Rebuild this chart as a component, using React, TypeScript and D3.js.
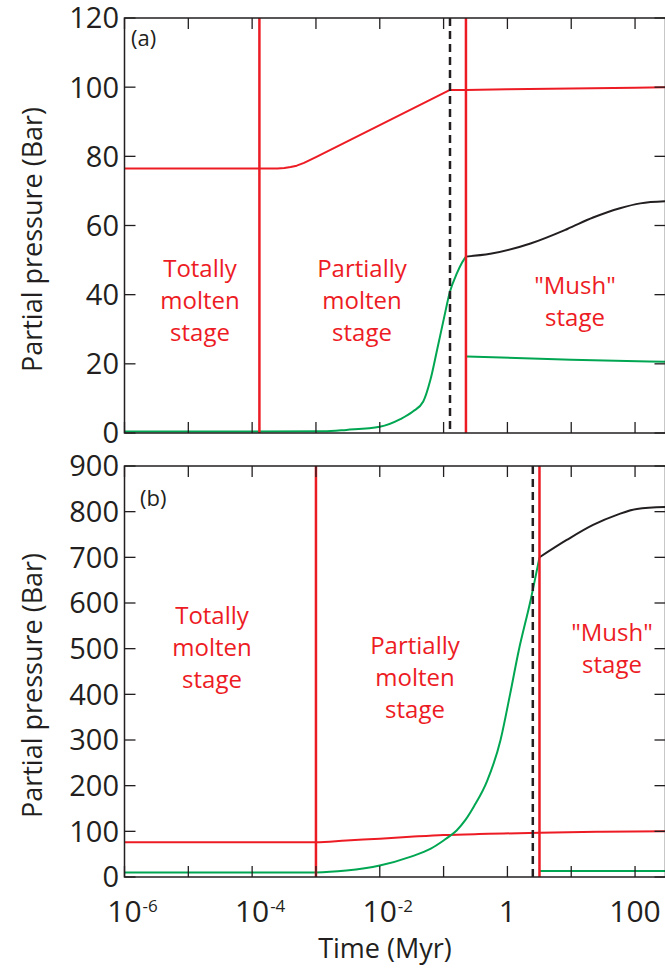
import * as d3 from 'd3';

// ---- data (time in Myr, pressure in bar) ----
const redA_t = [1e-6, 2.5e-4, 3.2e-4, 4e-4, 5e-4, 6.5e-4, 1e-3, 0.01, 0.126, 0.224, 1, 10, 100, 300];
const redA_v = [76.5, 76.5, 76.6, 76.9, 77.3, 78.1, 79.8, 89.0, 99.2, 99.2, 99.4, 99.6, 99.8, 100];
const greenA1_t = [1e-6, 1.3e-3, 3e-3, 0.01, 0.021, 0.033, 0.048, 0.062, 0.079, 0.1, 0.126, 0.162, 0.195, 0.224];
const greenA1_v = [0.4, 0.5, 0.9, 1.8, 4.0, 6.2, 9.1, 15.3, 24, 32.7, 40.9, 46.2, 49.3, 51];
const greenA2_t = [0.224, 10, 300];
const greenA2_v = [22.1, 21.2, 20.6];
const blackA_t = [0.224, 0.54, 2.3, 8.7, 22, 58, 121, 300];
const blackA_v = [51, 51.8, 54.8, 59.0, 62.3, 65.0, 66.4, 67];
const vlinesA = { red1: 1.3e-4, dashed: 0.126, red2: 0.224 };

const redB_t = [1e-6, 1e-3, 3e-3, 0.01, 0.03, 0.1, 0.5, 3.2, 30, 300];
const redB_v = [76, 76, 80, 84, 88, 92, 94.5, 97, 99, 100];
const greenB1_t = [1e-6, 1e-3, 3e-3, 0.01, 0.03, 0.063, 0.1, 0.126, 0.16, 0.22, 0.3, 0.48, 0.78, 1.1, 1.5, 2.3, 3.18];
const greenB1_v = [10, 10, 14, 25, 44, 62, 80, 90, 102, 125, 155, 210, 300, 400, 495, 605, 700];
const greenB2_t = [3.18, 300];
const greenB2_v = [13, 13];
const blackB_t = [3.18, 8.5, 22, 52, 107, 300];
const blackB_v = [700, 738, 771, 793, 806, 810];
const vlinesB = { red1: 1e-3, dashed: 2.5, red2: 3.18 };

const yTicksA = [0, 20, 40, 60, 80, 100, 120];
const yTicksB = [0, 100, 200, 300, 400, 500, 600, 700, 800, 900];
const xTicks = [1e-6, 1e-5, 1e-4, 1e-3, 1e-2, 1e-1, 1, 10, 100];
const xLabels = [
  { t: 1e-6, base: '10', exp: '-6' },
  { t: 1e-4, base: '10', exp: '-4' },
  { t: 1e-2, base: '10', exp: '-2' },
  { t: 1, base: '1', exp: '' },
  { t: 100, base: '100', exp: '' },
];

const RED = '#ed1c24';
const GREEN = '#00a651';
const BLACK = '#231f20';
const FONT = '"Open Sans", "Noto Sans", sans-serif';

const x = d3.scaleLog().domain([1e-6, 300]).range([124.5, 665.5]);

type Series = { t: number[]; v: number[]; color: string; linear?: boolean };
type Panel = {
  id: string;
  y: d3.ScaleLinear<number, number>;
  yTicks: number[];
  lines: Series[];
  vlines: { red1: number; dashed: number; red2: number };
  tag: string;
  tagX: number;
  tagY: number;
  texts: { lines: string[]; cx: number; y0: number }[];
};

const panels: Panel[] = [
  {
    id: 'a',
    y: d3.scaleLinear().domain([0, 120]).range([433, 18]),
    yTicks: yTicksA,
    lines: [
      { t: redA_t, v: redA_v, color: RED, linear: true },
      { t: greenA1_t, v: greenA1_v, color: GREEN },
      { t: greenA2_t, v: greenA2_v, color: GREEN },
      { t: blackA_t, v: blackA_v, color: BLACK },
    ],
    vlines: vlinesA,
    tag: '(a)',
    tagX: 131,
    tagY: 46,
    texts: [
      { lines: ['Totally', 'molten', 'stage'], cx: 200, y0: 277 },
      { lines: ['Partially', 'molten', 'stage'], cx: 362, y0: 277 },
      { lines: ['"Mush"', 'stage'], cx: 575, y0: 294 },
    ],
  },
  {
    id: 'b',
    y: d3.scaleLinear().domain([0, 900]).range([877, 466]),
    yTicks: yTicksB,
    lines: [
      { t: redB_t, v: redB_v, color: RED },
      { t: greenB1_t, v: greenB1_v, color: GREEN },
      { t: greenB2_t, v: greenB2_v, color: GREEN },
      { t: blackB_t, v: blackB_v, color: BLACK },
    ],
    vlines: vlinesB,
    tag: '(b)',
    tagX: 140,
    tagY: 506,
    texts: [
      { lines: ['Totally', 'molten', 'stage'], cx: 212, y0: 624 },
      { lines: ['Partially', 'molten', 'stage'], cx: 415, y0: 654 },
      { lines: ['"Mush"', 'stage'], cx: 612, y0: 641 },
    ],
  },
];

const TICK = 11;

function PanelView({ p }: { p: Panel }) {
  const [y0, y1] = p.y.range();
  const [x0, x1] = x.range();
  const makeLine = (linear?: boolean) =>
    d3
      .line<[number, number]>()
      .x((d) => x(d[0]))
      .y((d) => p.y(d[1]))
      .curve(linear ? d3.curveLinear : d3.curveMonotoneX);
  const clipId = `clip-${p.id}`;
  return (
    <g>
      <defs>
        <clipPath id={clipId}>
          <rect x={x0} y={y1} width={x1 - x0} height={y0 - y1} />
        </clipPath>
      </defs>
      <g clipPath={`url(#${clipId})`}>
        {p.lines.map((l, i) => (
          <path
            key={i}
            d={makeLine(l.linear)(l.t.map((t, j) => [t, l.v[j]] as [number, number])) || ''}
            fill="none"
            stroke={l.color}
            strokeWidth={2}
            strokeLinejoin="round"
          />
        ))}
        <line x1={x(p.vlines.red1)} x2={x(p.vlines.red1)} y1={y1} y2={y0} stroke={RED} strokeWidth={2.5} />
        <line
          x1={x(p.vlines.dashed)}
          x2={x(p.vlines.dashed)}
          y1={y1}
          y2={y0}
          stroke={BLACK}
          strokeWidth={2.5}
          strokeDasharray="8,5"
        />
        <line x1={x(p.vlines.red2)} x2={x(p.vlines.red2)} y1={y1} y2={y0} stroke={RED} strokeWidth={2.5} />
      </g>
      {/* frame */}
      <rect x={x0} y={y1} width={x1 - x0} height={y0 - y1} fill="none" stroke={BLACK} strokeWidth={1.5} />
      {/* x ticks, inward on top and bottom */}
      {xTicks.map((t) => (
        <g key={t}>
          <line x1={x(t)} x2={x(t)} y1={y0} y2={y0 - TICK} stroke={BLACK} strokeWidth={1.3} />
          <line x1={x(t)} x2={x(t)} y1={y1} y2={y1 + TICK} stroke={BLACK} strokeWidth={1.3} />
        </g>
      ))}
      {/* y ticks, inward on left and right */}
      {p.yTicks.map((v) => (
        <g key={v}>
          <line x1={x0} x2={x0 + TICK} y1={p.y(v)} y2={p.y(v)} stroke={BLACK} strokeWidth={1.3} />
          <line x1={x1} x2={x1 - TICK} y1={p.y(v)} y2={p.y(v)} stroke={BLACK} strokeWidth={1.3} />
          <text
            x={119}
            y={p.y(v)}
            dy="0.36em"
            textAnchor="end"
            fontSize={29}
            fill={BLACK}
            fontFamily={FONT}
          >
            {v}
          </text>
        </g>
      ))}
      <text x={p.tagX} y={p.tagY} fontSize={22} fill={BLACK} fontFamily={FONT}>
        {p.tag}
      </text>
      {p.texts.map((tx, i) => (
        <text key={i} textAnchor="middle" fontSize={24} fill={RED} fontFamily={FONT}>
          {tx.lines.map((s, j) => (
            <tspan key={j} x={tx.cx} y={tx.y0 + j * 32}>
              {s}
            </tspan>
          ))}
        </text>
      ))}
      <text
        transform={`translate(42,${(y0 + y1) / 2 + 14}) rotate(-90)`}
        textAnchor="middle"
        fontSize={27}
        fill={BLACK}
        fontFamily={FONT}
      >
        Partial pressure (Bar)
      </text>
    </g>
  );
}

export default function App() {
  return (
    <svg
      width={665}
      height={970}
      style={{ position: 'absolute', left: 0, top: 0, background: '#fff' }}
    >
      <rect width={665} height={970} fill="#fff" />
      {panels.map((p) => (
        <PanelView key={p.id} p={p} />
      ))}
      {xLabels.map((l) => (
        <g key={l.t}>
          <text x={x(l.t)} y={922} textAnchor="middle" fontSize={30} fill={BLACK} fontFamily={FONT}>
            {l.base}
          </text>
          {l.exp && (
            <text x={x(l.t) + 18} y={912} fontSize={17} fill={BLACK} fontFamily={FONT}>
              {l.exp}
            </text>
          )}
        </g>
      ))}
      <text x={385} y={958} textAnchor="middle" fontSize={27} fill={BLACK} fontFamily={FONT}>
        Time (Myr)
      </text>
    </svg>
  );
}
